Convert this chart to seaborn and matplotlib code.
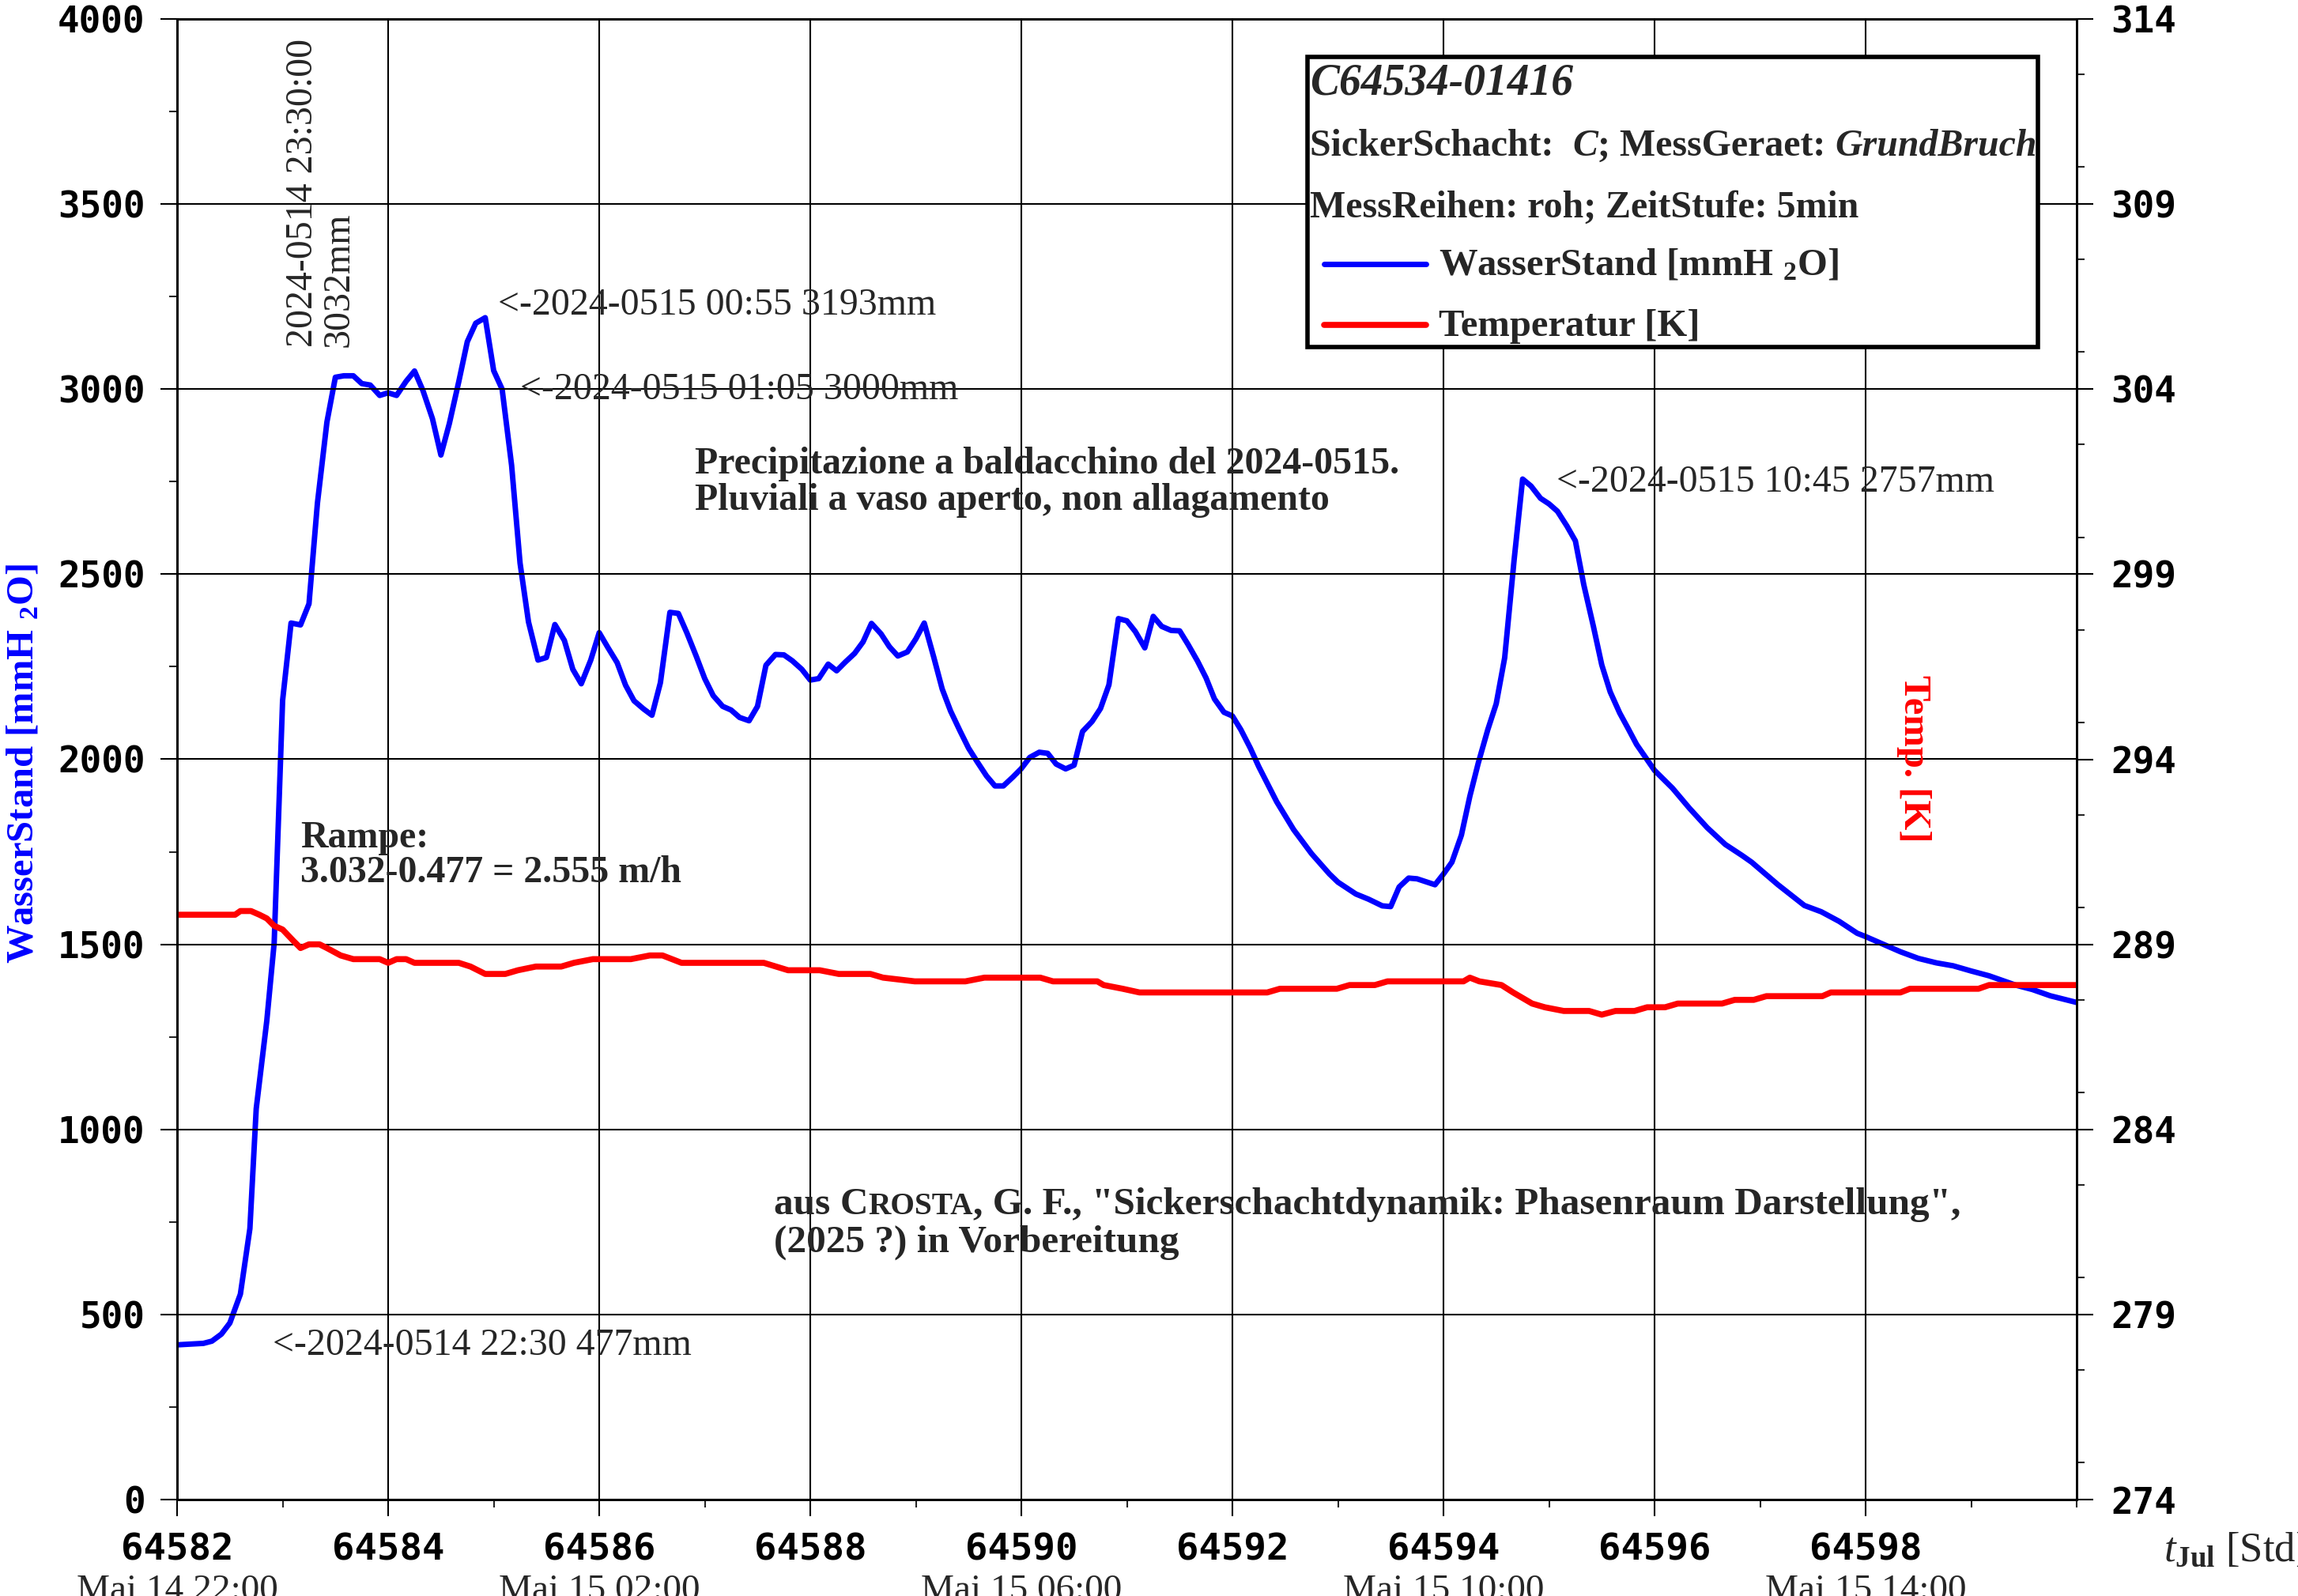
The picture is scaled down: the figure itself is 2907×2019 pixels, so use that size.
import matplotlib
matplotlib.use("Agg")
import matplotlib.pyplot as plt
import seaborn as sns
from matplotlib.lines import Line2D
from matplotlib.patches import Rectangle
from matplotlib.ticker import MultipleLocator

# ---------------------------------------------------------------- data
# Water level, time in Julian hours, level in mm H2O
wasser_t = [
    64582.00, 64582.25, 64582.33, 64582.42, 64582.50, 64582.60, 64582.69, 64582.75,
    64582.85, 64582.92, 64583.00, 64583.08, 64583.17, 64583.25, 64583.33, 64583.42,
    64583.50, 64583.58, 64583.67, 64583.75, 64583.83, 64583.92, 64584.00, 64584.08,
    64584.17, 64584.25, 64584.33, 64584.42, 64584.50, 64584.58, 64584.67, 64584.75,
    64584.83, 64584.92, 64585.00, 64585.08, 64585.17, 64585.25, 64585.33, 64585.42,
    64585.50, 64585.58, 64585.67, 64585.75, 64585.83, 64585.92, 64586.00, 64586.08,
    64586.17, 64586.25, 64586.33, 64586.42, 64586.50, 64586.58, 64586.67, 64586.75,
    64586.83, 64586.92, 64587.00, 64587.08, 64587.17, 64587.25, 64587.33, 64587.42,
    64587.50, 64587.58, 64587.67, 64587.75, 64587.83, 64587.92, 64588.00, 64588.08,
    64588.17, 64588.25, 64588.33, 64588.42, 64588.50, 64588.58, 64588.67, 64588.75,
    64588.83, 64588.92, 64589.00, 64589.08, 64589.17, 64589.25, 64589.33, 64589.42,
    64589.50, 64589.58, 64589.67, 64589.75, 64589.83, 64589.92, 64590.00, 64590.08,
    64590.17, 64590.25, 64590.33, 64590.42, 64590.50, 64590.58, 64590.67, 64590.75,
    64590.83, 64590.92, 64591.00, 64591.08, 64591.17, 64591.25, 64591.33, 64591.42,
    64591.50, 64591.58, 64591.67, 64591.75, 64591.83, 64591.92, 64592.00, 64592.08,
    64592.17, 64592.25, 64592.42, 64592.58, 64592.75, 64592.92, 64593.00, 64593.17,
    64593.29, 64593.42, 64593.50, 64593.58, 64593.67, 64593.75, 64593.92, 64594.00,
    64594.08, 64594.17, 64594.25, 64594.33, 64594.42, 64594.50, 64594.58, 64594.67,
    64594.75, 64594.83, 64594.92, 64595.00, 64595.08, 64595.17, 64595.25, 64595.33,
    64595.42, 64595.50, 64595.58, 64595.67, 64595.75, 64595.83, 64596.00, 64596.17,
    64596.33, 64596.50, 64596.67, 64596.83, 64596.92, 64597.17, 64597.42, 64597.58,
    64597.75, 64597.92, 64598.00, 64598.17, 64598.33, 64598.50, 64598.67, 64598.83,
    64599.00, 64599.17, 64599.42, 64599.58, 64599.75, 64600.00,
]
wasser_mm = [
    418, 422, 428, 447, 477, 555, 732, 1056,
    1293, 1503, 2159, 2368, 2363, 2420, 2692, 2911,
    3032, 3036, 3036, 3015, 3011, 2983, 2990, 2983,
    3021, 3049, 2996, 2920, 2822, 2907, 3021, 3128,
    3178, 3193, 3050, 3000, 2794, 2530, 2371, 2268,
    2275, 2364, 2321, 2243, 2204, 2268, 2342, 2303,
    2261, 2200, 2158, 2136, 2119, 2207, 2397, 2394,
    2342, 2278, 2218, 2172, 2143, 2133, 2113, 2104,
    2143, 2254, 2283, 2282, 2266, 2243, 2214, 2218,
    2257, 2239, 2262, 2286, 2317, 2367, 2339, 2304,
    2279, 2290, 2325, 2368, 2276, 2190, 2130, 2076,
    2030, 1994, 1955, 1928, 1928, 1952, 1975, 2005,
    2019, 2016, 1987, 1974, 1984, 2075, 2102, 2137,
    2201, 2380, 2374, 2345, 2301, 2386, 2359, 2348,
    2347, 2310, 2265, 2220, 2163, 2127, 2117, 2080,
    2030, 1980, 1885, 1810, 1745, 1690, 1668, 1636,
    1622, 1604, 1602, 1655, 1679, 1677, 1661, 1690,
    1722, 1795, 1900, 1990, 2080, 2150, 2274, 2540,
    2757, 2738, 2705, 2690, 2670, 2630, 2590, 2471,
    2360, 2255, 2182, 2125, 2083, 2040, 1970, 1922,
    1868, 1815, 1770, 1740, 1722, 1661, 1605, 1588,
    1562, 1530, 1521, 1500, 1480, 1462, 1450, 1442,
    1428, 1415, 1390, 1378, 1361, 1343,
]

# Temperature, time in Julian hours, value in K
temp_t = [
    64582.00, 64582.55, 64582.60, 64582.70, 64582.78, 64582.85, 64582.92, 64583.00,
    64583.10, 64583.17, 64583.25, 64583.35, 64583.42, 64583.55, 64583.67, 64583.92,
    64584.00, 64584.08, 64584.17, 64584.25, 64584.67, 64584.78, 64584.92, 64585.11,
    64585.23, 64585.40, 64585.64, 64585.76, 64585.94, 64586.30, 64586.48, 64586.60,
    64586.78, 64587.56, 64587.79, 64588.09, 64588.27, 64588.57, 64588.69, 64588.99,
    64589.47, 64589.65, 64590.18, 64590.30, 64590.72, 64590.78, 64590.96, 64591.12,
    64592.33, 64592.45, 64592.99, 64593.11, 64593.35, 64593.47, 64594.19, 64594.25,
    64594.34, 64594.55, 64594.66, 64594.84, 64594.96, 64595.14, 64595.38, 64595.50,
    64595.63, 64595.81, 64595.93, 64596.10, 64596.22, 64596.64, 64596.76, 64596.94,
    64597.06, 64597.59, 64597.67, 64598.33, 64598.42, 64599.07, 64599.17, 64600.00,
]
temp_k = [
    289.8, 289.8, 289.9, 289.9, 289.8, 289.7, 289.5, 289.4,
    289.1, 288.9, 289.0, 289.0, 288.9, 288.7, 288.6, 288.6,
    288.5, 288.6, 288.6, 288.5, 288.5, 288.4, 288.2, 288.2,
    288.3, 288.4, 288.4, 288.5, 288.6, 288.6, 288.7, 288.7,
    288.5, 288.5, 288.3, 288.3, 288.2, 288.2, 288.1, 288.0,
    288.0, 288.1, 288.1, 288.0, 288.0, 287.9, 287.8, 287.7,
    287.7, 287.8, 287.8, 287.9, 287.9, 288.0, 288.0, 288.1,
    288.0, 287.9, 287.7, 287.4, 287.3, 287.2, 287.2, 287.1,
    287.2, 287.2, 287.3, 287.3, 287.4, 287.4, 287.5, 287.5,
    287.6, 287.6, 287.7, 287.7, 287.8, 287.8, 287.9, 287.9,
]

x_ticks = [64582, 64584, 64586, 64588, 64590, 64592, 64594, 64596, 64598]
x_tick_labels = ["64582", "64584", "64586", "64588", "64590", "64592", "64594", "64596", "64598"]
date_ticks = [64582, 64586, 64590, 64594, 64598]
date_labels = ["Mai 14 22:00", "Mai 15 02:00", "Mai 15 06:00", "Mai 15 10:00", "Mai 15 14:00"]
left_ticks = [0, 500, 1000, 1500, 2000, 2500, 3000, 3500, 4000]
left_tick_labels = ["0", "500", "1000", "1500", "2000", "2500", "3000", "3500", "4000"]
right_ticks = [274, 279, 284, 289, 294, 299, 304, 309, 314]
right_tick_labels = ["274", "279", "284", "289", "294", "299", "304", "309", "314"]

# ---------------------------------------------------------------- style
sns.set_theme(style="white")
plt.rcParams["font.family"] = ["Liberation Serif", "DejaVu Serif"]
plt.rcParams["mathtext.fontset"] = "custom"
plt.rcParams["mathtext.rm"] = "Liberation Serif:bold"
plt.rcParams["mathtext.it"] = "Liberation Serif:italic"
plt.rcParams["mathtext.bf"] = "Liberation Serif:bold"

BLUE = "#0000ff"
RED = "#ff0000"
XTICKFONT = dict(fontfamily="DejaVu Sans Mono", fontweight="bold", fontsize=34)
YTICKFONT = dict(fontfamily="DejaVu Sans Mono", fontweight="bold", fontsize=33)
FS = 34.5  # annotation / info text size

W, H = 2907, 2019
fig = plt.figure(figsize=(W / 100, H / 100), dpi=100, facecolor="white")
X0, X1, Y0, Y1 = 224, 2627, 24, 1897
ax = fig.add_axes([X0 / W, 1 - Y1 / H, (X1 - X0) / W, (Y1 - Y0) / H])
ax2 = ax.twinx()

# ---------------------------------------------------------------- curves
sns.lineplot(x=wasser_t, y=wasser_mm, ax=ax, color=BLUE, linewidth=5,
             estimator=None, sort=False)
sns.lineplot(x=temp_t, y=temp_k, ax=ax2, color=RED, linewidth=5.5,
             estimator=None, sort=False)

ax.set_xlim(64582, 64600)
ax.set_ylim(0, 4000)
ax2.set_ylim(274, 314)
ax.set_xlabel("")
ax.set_ylabel("")
ax2.set_ylabel("")

ax.set_xticks(x_ticks, labels=x_tick_labels, **XTICKFONT)
ax.xaxis.set_minor_locator(MultipleLocator(1))
ax.set_yticks(left_ticks, labels=left_tick_labels, **YTICKFONT)
ax.yaxis.set_minor_locator(MultipleLocator(250))
ax2.set_yticks(right_ticks, labels=right_tick_labels, **YTICKFONT)
ax2.yaxis.set_minor_locator(MultipleLocator(2.5))

ax.tick_params(axis="x", which="major", direction="out", length=15, width=1.5,
               pad=15, colors="black", bottom=True, top=False)
ax.tick_params(axis="x", which="minor", direction="out", length=7.5, width=1.5,
               bottom=True, top=False)
ax.tick_params(axis="y", which="major", direction="out", length=15, width=1.5,
               pad=14, colors="black", left=True, right=False)
ax.tick_params(axis="y", which="minor", direction="out", length=7.5, width=1.5,
               left=True, right=False)
ax2.tick_params(axis="y", which="major", direction="out", length=15, width=1.5,
                pad=16, colors="black", right=True, left=False)
ax2.tick_params(axis="y", which="minor", direction="out", length=7.5, width=1.5,
                right=True, left=False)

ax.grid(True, which="major", color="black", linewidth=1.5)
ax.set_axisbelow(False)
for a in (ax, ax2):
    for sp in a.spines.values():
        sp.set_color("black")
        sp.set_linewidth(2)

# date labels below the hour ticks (they run off the lower edge)
for t, lab in zip(date_ticks, date_labels):
    ax.text(t, -0.0502, lab, transform=ax.get_xaxis_transform(), ha="center",
            va="top", fontsize=34, clip_on=False)

# axis titles
fig.text(2737 / W, 1 - 1962 / H, r"$\mathit{t}_{\mathbf{Jul}}$ [Std]",
         fontsize=38, ha="left", va="center")
fig.text(30 / W, 1 - 966 / H, r"WasserStand [mmH $_\mathbf{2}$O]", color=BLUE,
         fontsize=35, fontweight="bold", rotation=90, ha="center", va="center")
fig.text(2421 / W, 1 - 960 / H, "Temp. [K]", color=RED, fontsize=35,
         fontweight="bold", rotation=270, ha="center", va="center")

# ---------------------------------------------------------------- annotations
ANN = dict(fontsize=FS, ha="left", va="center", zorder=4)
ax.text(64585.04, 3227, "<-2024-0515 00:55 3193mm", **ANN)
ax.text(64585.25, 2998, "<-2024-0515 01:05 3000mm", **ANN)
ax.text(64595.07, 2748, "<-2024-0515 10:45 2757mm", **ANN)
ax.text(64582.91, 416, "<-2024-0514 22:30 477mm", **ANN)
ax.text(64583.36, 3113, "2024-0514 23:30:00\n3032mm", fontsize=34.5, rotation=90,
        ha="center", va="bottom", multialignment="left", linespacing=1.05, zorder=4)
ax.text(64586.91, 2748,
        "Precipitazione a baldacchino del 2024-0515.\nPluviali a vaso aperto, non allagamento",
        fontsize=FS, fontweight="bold", ha="left", va="center", linespacing=1.05, zorder=4)
ax.text(64583.17, 1740, "Rampe:\n3.032-0.477 = 2.555 m/h", fontsize=FS,
        fontweight="bold", ha="left", va="center", linespacing=1.0, zorder=4)

renderer = fig.canvas.get_renderer()


def run_text(x, y, parts, size=FS):
    """Write text pieces one after another on a common baseline (pixels from top-left)."""
    cur = x
    for s, style, scale in parts:
        t = fig.text(cur / W, 1 - y / H, s, fontsize=size * scale, fontweight="bold",
                     fontstyle=style, ha="left", va="baseline", zorder=6)
        cur += t.get_window_extent(renderer=renderer).width
    return cur


run_text(979, 1536, [("aus ", "normal", 1.0), ("C", "normal", 1.0), ("ROSTA", "normal", 0.8),
                     (", G. F., \"Sickerschachtdynamik: Phasenraum Darstellung\",", "normal", 1.0)],
         size=35.5)
run_text(979, 1584, [("(2025 ?) in Vorbereitung", "normal", 1.0)], size=35.5)

# ---------------------------------------------------------------- info box with legend
fig.add_artist(Rectangle((1654 / W, 1 - 439 / H), (2578 - 1654) / W, (439 - 72) / H,
                         transform=fig.transFigure, facecolor="white",
                         edgecolor="black", linewidth=4, zorder=5))
run_text(1657, 120, [("C64534-01416", "italic", 1.0)], size=40)
run_text(1657, 197, [("SickerSchacht:  ", "normal", 1.0), ("C", "italic", 1.0),
                     ("; MessGeraet: ", "normal", 1.0), ("GrundBruch", "italic", 1.0)])
run_text(1657, 275, [("MessReihen: roh; ZeitStufe: 5min", "normal", 1.0)])

fig.add_artist(Line2D([1675 / W, 1804 / W], [1 - 334 / H] * 2, color=BLUE, linewidth=5,
                      transform=fig.transFigure, zorder=6))
fig.add_artist(Line2D([1675 / W, 1804 / W], [1 - 411 / H] * 2, color=RED, linewidth=5.5,
                      transform=fig.transFigure, zorder=6))
fig.text(1820 / W, 1 - 348 / H, r"WasserStand [mmH $_\mathbf{2}$O]", fontsize=35,
         fontweight="bold", ha="left", va="baseline", zorder=6)
fig.text(1820 / W, 1 - 425 / H, "Temperatur [K]", fontsize=35,
         fontweight="bold", ha="left", va="baseline", zorder=6)

fig.savefig("out.png", dpi=100, facecolor="white")
